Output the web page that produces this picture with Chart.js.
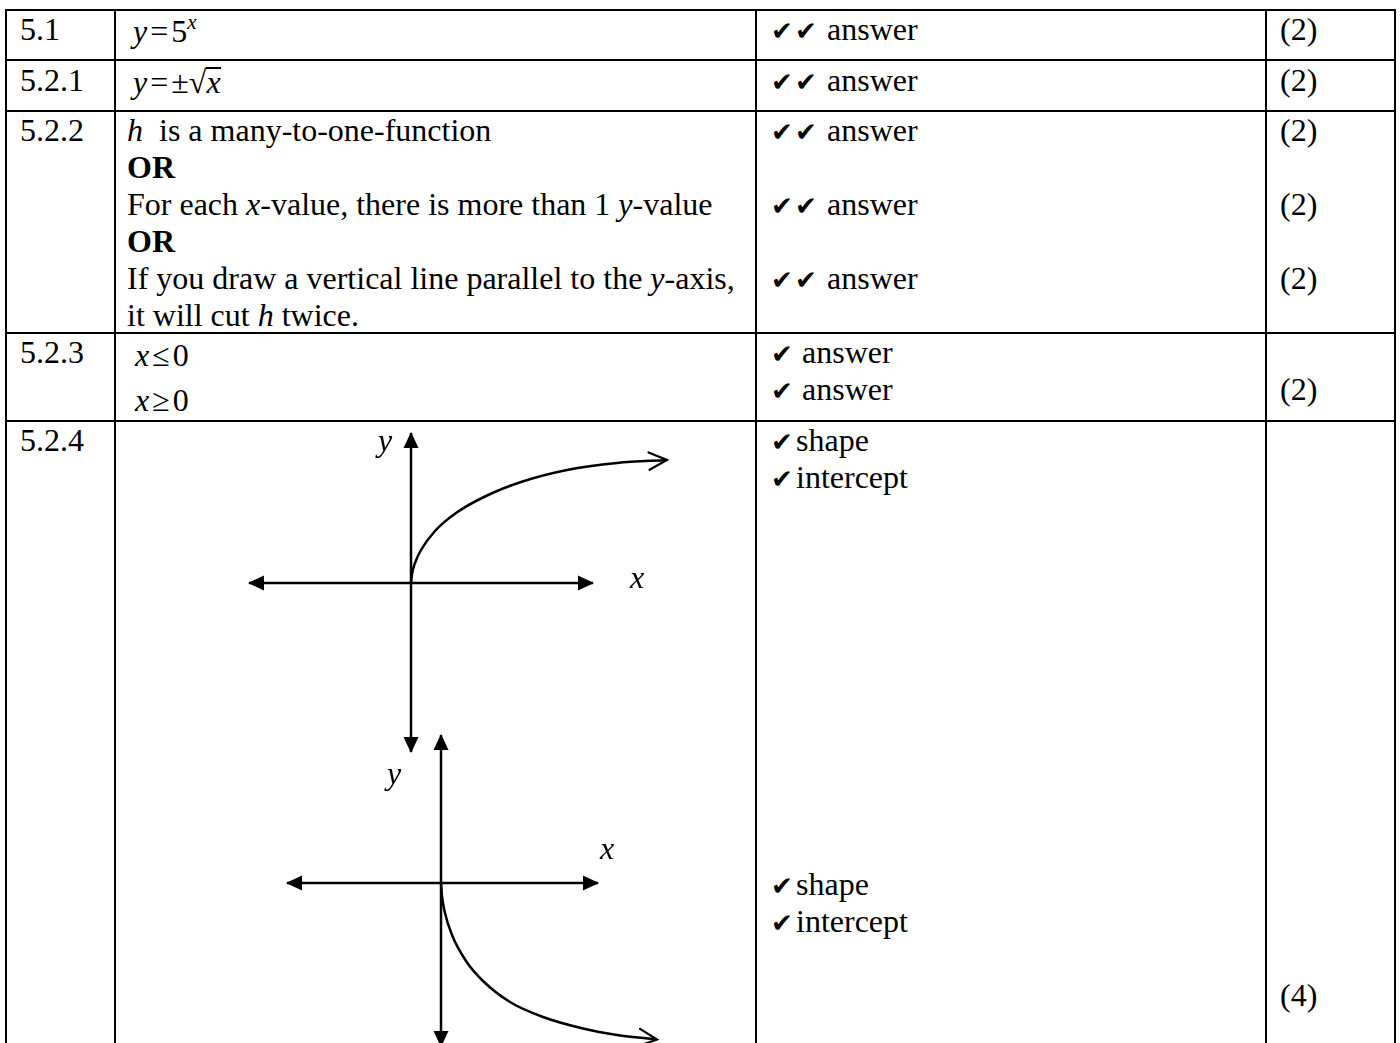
<!DOCTYPE html>
<html>
<head>
<meta charset="utf-8">
<title>5.2 memo</title>
<script src="https://cdn.jsdelivr.net/npm/chart.js@4.4.1/dist/chart.umd.min.js"></script>
<style>
  html, body { margin: 0; padding: 0; background: #fff; }
  body {
    position: relative; width: 1400px; height: 1043px; overflow: hidden;
    font-family: "Liberation Serif", "Times New Roman", serif; font-size: 32px; color: #000;
  }
  .hl { position: absolute; left: 5px; width: 1391px; height: 2px; background: #000; }
  .vl { position: absolute; top: 9px; width: 2px; height: 1034px; background: #000; }
  .cell { position: absolute; line-height: 37px; white-space: nowrap; }
  .ck { display: inline-block; font-family: "DejaVu Sans", sans-serif; font-size: 26px; line-height: 20px; }
  .sup { font-size: 21px; position: relative; top: -13px; }
  .rad { display: inline-block; border-top: 2px solid #000; line-height: 27px; }
  .op { margin: 0 3px; }
  canvas { position: absolute; }
</style>
</head>
<body>

<!-- table rules -->
<div class="hl" style="top:9px"></div>
<div class="hl" style="top:59px"></div>
<div class="hl" style="top:110px"></div>
<div class="hl" style="top:332px"></div>
<div class="hl" style="top:420px"></div>
<div class="vl" style="left:5px"></div>
<div class="vl" style="left:114px"></div>
<div class="vl" style="left:755px"></div>
<div class="vl" style="left:1265px"></div>
<div class="vl" style="left:1394px"></div>

<!-- 5.1 -->
<div class="cell" style="left:20px; top:11px">5.1</div>
<div class="cell" style="left:133px; top:13px"><i>y</i><span class="op">=</span>5<span class="sup"><i>x</i></span></div>
<div class="cell" style="left:771px; top:11px"><span class="ck" style="width:24px">✔</span><span class="ck" style="width:32px">✔</span>answer</div>
<div class="cell" style="left:1280px; top:11px">(2)</div>

<!-- 5.2.1 -->
<div class="cell" style="left:20px; top:62px">5.2.1</div>
<div class="cell" style="left:133px; top:64px"><i>y</i><span class="op">=</span>±√<span class="rad"><i>x</i></span></div>
<div class="cell" style="left:771px; top:62px"><span class="ck" style="width:24px">✔</span><span class="ck" style="width:32px">✔</span>answer</div>
<div class="cell" style="left:1280px; top:62px">(2)</div>

<!-- 5.2.2 -->
<div class="cell" style="left:20px; top:112px">5.2.2</div>
<div class="cell" style="left:127px; top:112px">
  <div><i>h</i>&nbsp; is a many-to-one-function</div>
  <div><b>OR</b></div>
  <div>For each <i>x</i>-value, there is more than 1 <i>y</i>-value</div>
  <div><b>OR</b></div>
  <div>If you draw a vertical line parallel to the <i>y</i>-axis,</div>
  <div>it will cut <i>h</i> twice.</div>
</div>
<div class="cell" style="left:771px; top:112px">
  <div><span class="ck" style="width:24px">✔</span><span class="ck" style="width:32px">✔</span>answer</div>
  <div>&nbsp;</div>
  <div><span class="ck" style="width:24px">✔</span><span class="ck" style="width:32px">✔</span>answer</div>
  <div>&nbsp;</div>
  <div><span class="ck" style="width:24px">✔</span><span class="ck" style="width:32px">✔</span>answer</div>
</div>
<div class="cell" style="left:1280px; top:112px">
  <div>(2)</div><div>&nbsp;</div><div>(2)</div><div>&nbsp;</div><div>(2)</div>
</div>

<!-- 5.2.3 -->
<div class="cell" style="left:20px; top:334px">5.2.3</div>
<div class="cell" style="left:135px; top:337px">
  <div><i>x</i><span class="op">≤</span>0</div>
  <div style="margin-top:8px"><i>x</i><span class="op">≥</span>0</div>
</div>
<div class="cell" style="left:771px; top:334px">
  <div><span class="ck" style="width:31px">✔</span>answer</div>
  <div><span class="ck" style="width:31px">✔</span>answer</div>
</div>
<div class="cell" style="left:1280px; top:334px">
  <div>&nbsp;</div><div>(2)</div>
</div>

<!-- 5.2.4 -->
<div class="cell" style="left:20px; top:422px">5.2.4</div>
<div class="cell" style="left:771px; top:422px">
  <div><span class="ck" style="width:25px">✔</span>shape</div>
  <div><span class="ck" style="width:25px">✔</span>intercept</div>
  <div>&nbsp;</div><div>&nbsp;</div><div>&nbsp;</div><div>&nbsp;</div><div>&nbsp;</div>
  <div>&nbsp;</div><div>&nbsp;</div><div>&nbsp;</div><div>&nbsp;</div><div>&nbsp;</div>
  <div><span class="ck" style="width:25px">✔</span>shape</div>
  <div><span class="ck" style="width:25px">✔</span>intercept</div>
</div>
<div class="cell" style="left:1280px; top:422px">
  <div>&nbsp;</div><div>&nbsp;</div><div>&nbsp;</div><div>&nbsp;</div><div>&nbsp;</div>
  <div>&nbsp;</div><div>&nbsp;</div><div>&nbsp;</div><div>&nbsp;</div><div>&nbsp;</div>
  <div>&nbsp;</div><div>&nbsp;</div><div>&nbsp;</div><div>&nbsp;</div><div>&nbsp;</div>
  <div>(4)</div>
</div>

<canvas id="upperSketch" width="440" height="340" style="left:240px; top:425px"></canvas>
<canvas id="lowerSketch" width="420" height="318" style="left:270px; top:725px"></canvas>

<script>
// sketch values, 1 unit = 10 px, origin where the axes cross

// upper sketch: y = sqrt(x)
const upperCurveX = [0, 0.1, 0.4, 1.0, 2.4, 4.5, 7.5, 11.0, 15.6, 20.6, 25.6];
const upperCurveY = [0, 0.9, 2.0, 3.3, 5.2, 7.0, 8.7, 10.1, 11.3, 12.0, 12.3];
const upperAxisX = [-16.2, 18.2];
const upperAxisY = [-16.9, 15.0];

// lower sketch: y = -sqrt(x)
const lowerCurveX = [0, 0.1, 0.4, 1.1, 2.5, 4.2, 6.9, 10.2, 14.2, 17.6, 21.6];
const lowerCurveY = [0, -1.3, -3.0, -5.2, -7.8, -9.8, -11.9, -13.4, -14.55, -15.2, -15.65];
const lowerAxisX = [-15.4, 15.7];
const lowerAxisY = [-16.3, 14.8];

const axisNames = ['x', 'y'];

function toPoints(xs, ys) {
    return xs.map((x, i) => ({ x: x, y: ys[i] }));
}

// arrow heads and axis names, drawn through the chart's own scales
const sketchMarks = {
    id: 'sketchMarks',
    afterDatasetsDraw(chart, args, opts) {
        const ctx = chart.ctx;
        const sx = chart.scales.x, sy = chart.scales.y;
        const px = p => [sx.getPixelForValue(p.x), sy.getPixelForValue(p.y)];
        ctx.save();
        ctx.fillStyle = '#000';
        ctx.strokeStyle = '#000';
        chart.data.datasets.forEach(ds => {
            const pts = ds.data;
            const n = pts.length;
            const ends = [];
            if (ds.arrows === 'filled') {
                ends.push([px(pts[0]), px(pts[1])]);
            }
            ends.push([px(pts[n - 1]), px(pts[n - 2])]);
            ends.forEach(([tip, prev]) => {
                const a = Math.atan2(tip[1] - prev[1], tip[0] - prev[0]);
                const c = Math.cos(a), s = Math.sin(a);
                if (ds.arrows === 'filled') {
                    const len = 15, half = 7.5;
                    ctx.beginPath();
                    ctx.moveTo(tip[0] + c * 1, tip[1] + s * 1);
                    ctx.lineTo(tip[0] - c * len - s * half, tip[1] - s * len + c * half);
                    ctx.lineTo(tip[0] - c * len + s * half, tip[1] - s * len - c * half);
                    ctx.closePath();
                    ctx.fill();
                } else {
                    const len = 20, spread = 0.45;
                    ctx.lineWidth = 2.2;
                    ctx.lineCap = 'round';
                    ctx.beginPath();
                    ctx.moveTo(tip[0] - len * Math.cos(a - spread), tip[1] - len * Math.sin(a - spread));
                    ctx.lineTo(tip[0], tip[1]);
                    ctx.lineTo(tip[0] - len * Math.cos(a + spread), tip[1] - len * Math.sin(a + spread));
                    ctx.stroke();
                }
            });
        });
        ctx.font = 'italic 32px "Liberation Serif", "Times New Roman", serif';
        ctx.textAlign = 'left';
        ctx.textBaseline = 'alphabetic';
        (opts.labels || []).forEach(l => {
            ctx.fillText(l.text, sx.getPixelForValue(l.x), sy.getPixelForValue(l.y));
        });
        ctx.restore();
    }
};

function sketchDatasets(curveX, curveY, axisX, axisY) {
    return [
        { data: axisX.map(x => ({ x: x, y: 0 })), arrows: 'filled' },
        { data: axisY.map(y => ({ x: 0, y: y })), arrows: 'filled' },
        { data: toPoints(curveX, curveY), arrows: 'open', cubicInterpolationMode: 'monotone' }
    ].map(d => Object.assign({
        showLine: true,
        borderColor: '#000',
        borderWidth: 2.5,
        pointRadius: 0,
        clip: false
    }, d));
}

function drawSketch(id, view, datasets, labels) {
    return new Chart(document.getElementById(id), {
        type: 'scatter',
        data: { datasets: datasets },
        options: {
            responsive: false,
            animation: false,
            devicePixelRatio: 1,
            events: [],
            layout: { padding: 0 },
            scales: {
                x: { type: 'linear', min: view.x[0], max: view.x[1], display: false },
                y: { type: 'linear', min: view.y[0], max: view.y[1], display: false }
            },
            plugins: {
                legend: { display: false },
                tooltip: { enabled: false },
                sketchMarks: { labels: labels }
            }
        },
        plugins: [sketchMarks]
    });
}

drawSketch('upperSketch',
    { x: [-17.1, 26.9], y: [-18.2, 15.8] },
    sketchDatasets(upperCurveX, upperCurveY, upperAxisX, upperAxisY),
    [{ text: axisNames[0], x: 21.9, y: -0.5 }, { text: axisNames[1], x: -3.3, y: 13.2 }]);

drawSketch('lowerSketch',
    { x: [-17.1, 24.9], y: [-16.0, 15.8] },
    sketchDatasets(lowerCurveX, lowerCurveY, lowerAxisX, lowerAxisY),
    [{ text: axisNames[0], x: 15.9, y: 2.4 }, { text: axisNames[1], x: -5.4, y: 9.9 }]);
</script>
</body>
</html>
